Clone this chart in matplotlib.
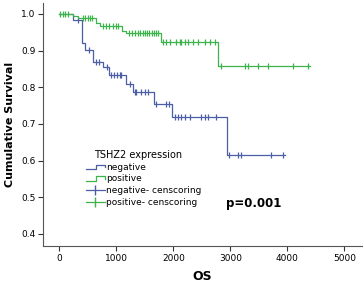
import numpy as np
import matplotlib.pyplot as plt
from matplotlib.lines import Line2D
from matplotlib.legend_handler import HandlerBase

# step curves (time of each drop, survival after it)
neg_times = [0, 250, 408, 449, 594, 769, 870, 1166, 1294, 1655, 1982, 2937]
neg_surv = [1.0, 0.984, 0.921, 0.902, 0.869, 0.854, 0.833, 0.809, 0.786, 0.755, 0.718, 0.616]
neg_end = 3950
neg_censor = [330, 525, 653, 700, 829, 916, 960, 1010, 1060, 1091, 1236, 1323,
              1353, 1440, 1498, 1556, 1702, 1877, 1923, 2023, 2081, 2140, 2198,
              2285, 2489, 2547, 2605, 2751, 2984, 3129, 3188, 3713, 3928]

pos_times = [0, 245, 330, 642, 711, 1108, 1166, 1790, 2785]
pos_surv = [1.0, 0.994, 0.988, 0.974, 0.968, 0.954, 0.947, 0.922, 0.857]
pos_end = 4400
pos_censor = [20, 60, 100, 150, 420, 460, 500, 540, 580, 766, 820, 880, 940,
              1000, 1034, 1220, 1280, 1330, 1380, 1420, 1460, 1500, 1540, 1580,
              1620, 1660, 1700, 1740, 1818, 1877, 1935, 2052, 2110, 2140, 2198,
              2256, 2343, 2431, 2547, 2635, 2722, 2844, 3252, 3311, 3486, 3661,
              4098, 4360]

blue = '#4b5ea6'
green = '#3cb44b'


def km_at(times, surv, t):
    idx = np.searchsorted(times, t, side='right') - 1
    return np.array(surv)[idx]


class StepHandler(HandlerBase):
    # little step icon like the SPSS legend
    def create_artists(self, legend, orig_handle, xdescent, ydescent,
                       width, height, fontsize, trans):
        x = np.array([0, 0.55, 0.55, 1.0, 1.0]) * width - xdescent
        y = np.array([0.05, 0.05, 0.8, 0.8, 0.35]) * height - ydescent
        ln = Line2D(x, y, color=orig_handle.get_color(), lw=0.9, transform=trans)
        return [ln]


fig = plt.figure(figsize=(3.64, 2.88), dpi=100)
ax = fig.add_axes([0.118, 0.146, 0.877, 0.844])

for times, surv, end, cens, col in [(neg_times, neg_surv, neg_end, neg_censor, blue),
                                    (pos_times, pos_surv, pos_end, pos_censor, green)]:
    ax.step(times + [end], surv + [surv[-1]], where='post', color=col, lw=0.9)
    ax.plot(cens, km_at(times, surv, cens), ls='none', marker='|',
            ms=5, mew=0.9, color=col)

ax.set_xlim(-285, 5310)
ax.set_ylim(0.367, 1.03)
ax.set_xticks([0, 1000, 2000, 3000, 4000, 5000])
ax.set_yticks([0.4, 0.5, 0.6, 0.7, 0.8, 0.9, 1.0])
ax.yaxis.set_major_formatter(plt.FormatStrFormatter('%.1f'))
ax.tick_params(labelsize=6.5, length=3.5, width=0.8, color='#333333', pad=2)
for s in ['top', 'right']:
    ax.spines[s].set_visible(False)
for s in ['left', 'bottom']:
    ax.spines[s].set_color('#555555')
    ax.spines[s].set_linewidth(0.8)

ax.set_xlabel('OS', fontsize=9, fontweight='bold', labelpad=5)
ax.set_ylabel('Cumulative Survival', fontsize=8, fontweight='bold', labelpad=4)

neg_h = Line2D([], [], color=blue, lw=0.9)
pos_h = Line2D([], [], color=green, lw=0.9)
handles = [neg_h, pos_h,
           Line2D([], [], color=blue, lw=0.9, marker='|', ms=7),
           Line2D([], [], color=green, lw=0.9, marker='|', ms=7)]
labels = ['negative', 'positive', 'negative- censcoring', 'positive- censcoring']
leg = ax.legend(handles, labels, title='TSHZ2 expression', frameon=False,
                fontsize=6.5, title_fontsize=7, loc='upper left',
                bbox_to_anchor=(0.125, 0.41), handlelength=2.0, handletextpad=0.2,
                labelspacing=0.3, borderaxespad=0,
                handler_map={neg_h: StepHandler(), pos_h: StepHandler()})
leg._legend_box.align = 'left'
leg.get_title().set_position((8, 0))

ax.text(0.572, 0.173, 'p=0.001', transform=ax.transAxes, fontsize=8.5,
        fontweight='bold', va='center')

fig.savefig('out.png', dpi=100)
